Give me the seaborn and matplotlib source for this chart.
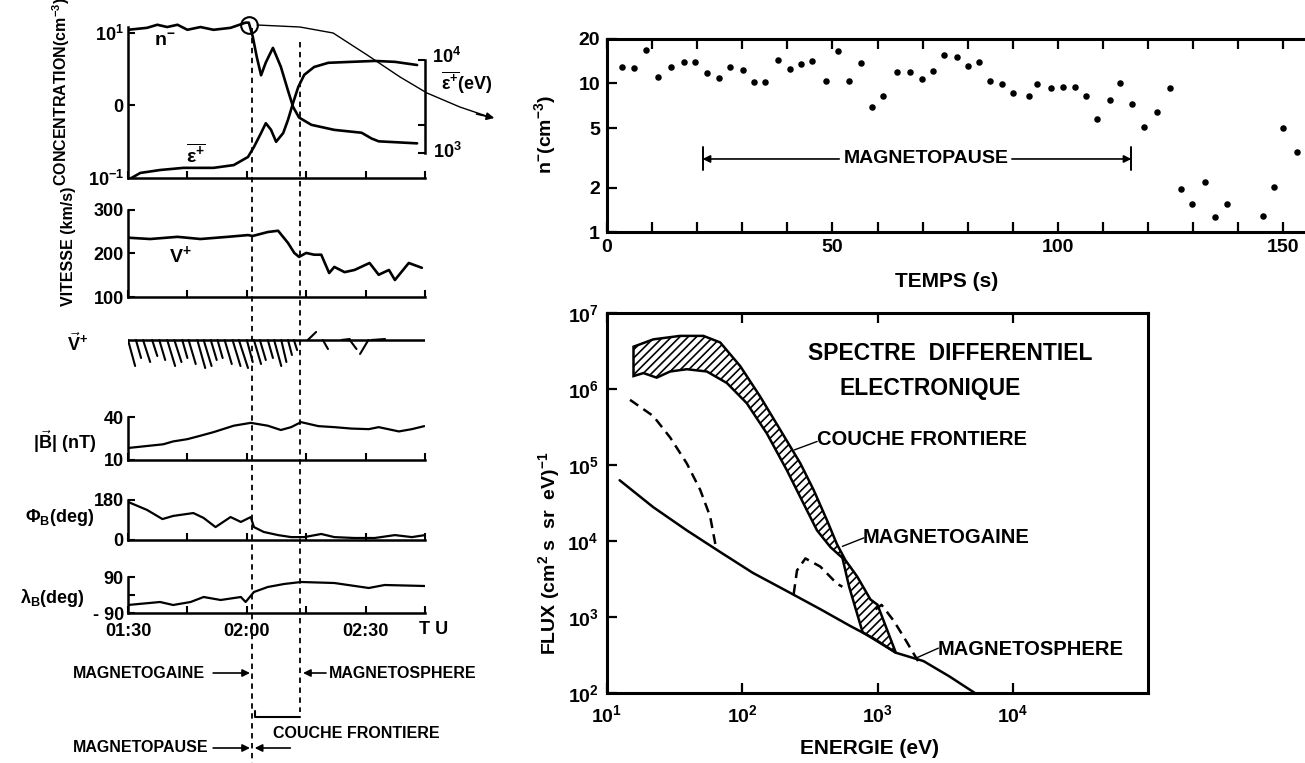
import matplotlib
matplotlib.use("Agg")
import matplotlib.pyplot as plt
from matplotlib.ticker import NullLocator
import seaborn as sns

# --- left column: time in minutes after 01:30 TU ---
time_ticks = [0, 15, 30, 45, 60, 75]
time_labels = ["01:30", "", "02:00", "", "02:30", ""]
boundary_t = [31.3, 43.4]          # magnetopause / inner edge of boundary layer

t_ne = [0, 4.8, 7.4, 9.9, 12.5, 15.0, 18.3, 21.6, 25.9, 29.7, 30.5, 31.5, 32.5, 33.6,
        34.8, 36.6, 38.6, 40.4, 41.7, 43.2, 46.3, 52.1, 59.0, 61.5, 63.3, 73.0]
ne = [11.0, 11.7, 12.9, 12.0, 12.9, 11.0, 12.0, 11.0, 11.7, 13.8, 13.8, 8.9, 4.7, 2.6,
      3.9, 6.2, 3.4, 1.6, 0.95, 0.68, 0.54, 0.46, 0.42, 0.35, 0.32, 0.30]

t_eps = [0, 3.1, 8.1, 14.0, 21.6, 26.7, 30.3, 31.8, 33.6, 34.8, 36.1, 37.4, 39.2, 40.4,
         41.7, 43.0, 44.5, 47.0, 50.6, 56.4, 62.3, 67.4, 73.0]
eps = [513, 610, 656, 692, 692, 741, 906, 1160, 1640, 2090, 1780, 1320, 1640, 2270,
       3470, 5130, 6920, 8410, 9330, 9550, 9770, 9550, 8830]

t_v = [0, 5.6, 12.5, 18.3, 25.2, 30.3, 31.5, 35.3, 37.9, 40.4, 42.0, 43.2, 45.0, 47.0,
       48.8, 50.8, 52.1, 54.7, 57.2, 61.0, 63.3, 65.9, 67.4, 70.9, 74.2]
v = [236, 233, 238, 233, 238, 242, 240, 249, 252, 224, 201, 192, 201, 197,
     197, 155, 169, 157, 162, 178, 151, 162, 139, 178, 167]

# velocity direction sticks: start time, extent in time, extent up (+) / down (-)
stick_t = [0, 2.0, 3.8, 6.1, 7.9, 9.9, 11.7, 13.7, 15.3, 17.5, 19.1, 20.9, 22.6, 24.4, 26.4,
           28.0, 30.0, 31.8, 33.3, 35.3, 36.9, 38.7, 40.4, 41.9, 45.4, 49.2, 53.9, 56.0, 60.7, 61.5]
stick_dx = [1.8, 1.3, 1.8, 1.3, 1.5, 2.0, 1.8, 1.3, 1.8, 2.0, 2.0, 1.5, 1.3, 1.8, 2.0,
            2.3, 1.5, 1.8, 1.5, 1.3, 1.8, 1.3, 1.0, 0.8, 2.1, 1.3, 2.1, 1.7, -2.1, 3.4]
stick_dy = [-26, -18, -22, -16, -20, -26, -22, -18, -24, -28, -26, -20, -18, -24, -26,
            -28, -22, -24, -20, -18, -26, -22, -15, -10, 8, -9, 1, -9, -14, 1]

t_b = [0, 8.9, 11.4, 15.0, 18.3, 21.6, 26.7, 31.0, 35.3, 38.6, 41.2, 43.7, 48.1, 52.1,
       56.4, 60.8, 63.3, 68.4, 71.7, 74.8]
b = [18.4, 21, 23, 24.6, 27, 29.5, 34, 36, 34, 31, 33, 36.5, 33.7, 33,
     32, 31.6, 33, 30, 31.6, 33.7]

t_phi = [0, 4.8, 8.7, 11.4, 16.5, 19.1, 22.1, 25.9, 28.5, 31.0, 31.8, 34.3, 37.9, 41.2,
         44.5, 48.8, 52.1, 57.2, 62.3, 67.4, 71.7, 75.0]
phi = [171, 135, 94, 108, 121, 99, 58, 103, 81, 103, 58, 36, 22, 13,
       13, 27, 13, 9, 9, 22, 13, 22]

t_lam = [0, 8.1, 11.4, 15.8, 19.1, 23.4, 28.5, 29.7, 31.8, 35.3, 39.4, 43.7, 52.1, 60.8, 64.8, 75.0]
lam = [-50, -35, -50, -35, -10, -25, -10, -35, 15, 40, 55, 65, 60, 35, 50, 45]

# --- top right: n- versus time (s) ---
scatter_t = [3.3, 5.9, 8.6, 11.4, 14.2, 17.0, 19.5, 22.2, 24.8, 27.3, 30.2, 32.7, 35.1, 38.0,
             40.6, 43.0, 45.4, 48.6, 51.3, 53.6, 56.4, 58.7, 61.1, 64.3, 67.1, 69.9, 72.2, 74.7,
             77.7, 80.1, 82.4, 84.9, 87.5, 90.0, 93.5, 95.3, 98.4, 101.1, 103.7, 106.2, 108.7,
             111.5, 113.7, 116.5, 119.2, 121.9, 124.8, 127.4, 129.7, 132.6, 134.8, 137.6,
             145.5, 148.0, 150.0, 153.0]
scatter_n = [13.0, 12.8, 16.9, 11.0, 13.0, 14.0, 13.9, 11.7, 10.9, 13.0, 12.3, 10.2, 10.2, 14.4,
             12.6, 13.5, 14.2, 10.4, 16.6, 10.4, 13.8, 7.0, 8.2, 12.0, 11.9, 10.8, 12.2, 15.5,
             15.0, 13.2, 14.0, 10.4, 9.9, 8.6, 8.2, 9.9, 9.3, 9.4, 9.4, 8.3, 5.8,
             7.8, 10.0, 7.3, 5.1, 6.4, 9.3, 1.96, 1.54, 2.18, 1.27, 1.54,
             1.29, 2.02, 5.0, 3.48]
mp_start, mp_end, mp_level = 21.2, 116.3, 3.11

# --- bottom right: electron differential spectra ---
msph_E = [12.4, 21.9, 38.9, 69.2, 120, 214, 380, 631, 933, 1365, 2188, 3388, 5248]
msph_F = [6.3e4, 2.8e4, 1.38e4, 7.1e3, 3.8e3, 2.19e3, 1.26e3, 759, 525, 339, 263, 166, 100]

msh_lo_E = [14.8, 22.0, 29.3, 38.9, 48.9, 57.9, 63.1, 64.6]
msh_lo_F = [7.2e5, 4.4e5, 2.3e5, 1.05e5, 4.7e4, 2.1e4, 9.3e3, 7.6e3]
msh_mid_E = [240, 254, 293, 378, 501, 550]
msh_mid_F = [2.0e3, 4.1e3, 5.9e3, 4.6e3, 2.75e3, 2.5e3]
msh_hi_E = [966, 1072, 1318, 1585, 1995]
msh_hi_F = [1259, 1445, 891, 525, 263]

band_up_E = [15.7, 22.0, 34.7, 51.6, 68.7, 96.6, 136, 191, 269, 337, 424, 501, 579, 708, 887, 1000, 1365]
band_up_F = [3.6e6, 4.5e6, 5.0e6, 5.0e6, 4.1e6, 2.0e6, 7.9e5, 2.9e5, 1.05e5, 4.7e4, 1.86e4,
             9.1e3, 5.6e3, 3.4e3, 1.7e3, 1.45e3, 340]
band_lo_E = [15.7, 18.6, 23.3, 29.3, 38.9, 54.7, 76.9, 108, 152, 214, 284, 357, 449, 550, 617, 776]
band_lo_F = [1.48e6, 1.62e6, 1.41e6, 1.70e6, 1.82e6, 1.70e6, 1.20e6, 6.5e5, 2.6e5, 8.5e4,
             3.1e4, 1.38e4, 8.3e3, 6.0e3, 2.5e3, 630]

W, H = 1305, 763
sns.set_theme(style="ticks", rc={
    "axes.edgecolor": "black", "text.color": "black", "axes.labelcolor": "black",
    "xtick.color": "black", "ytick.color": "black", "hatch.linewidth": 1.2,
})
plt.rcParams["font.family"] = ["Liberation Sans", "DejaVu Sans"]
plt.rcParams["font.weight"] = "bold"
plt.rcParams["mathtext.fontset"] = "custom"
plt.rcParams["mathtext.rm"] = "Liberation Sans:bold"
plt.rcParams["mathtext.it"] = "Liberation Sans:bold"
plt.rcParams["mathtext.bf"] = "Liberation Sans:bold"
plt.rcParams["mathtext.default"] = "rm"

fig = plt.figure(figsize=(W / 100, H / 100), dpi=100)


def rect(x0, y0, x1, y1):
    # pixel box -> figure fraction
    return [x0 / W, 1 - y1 / H, (x1 - x0) / W, (y1 - y0) / H]


def ftext(x, y, s, **kw):
    kw.setdefault("ha", "center")
    kw.setdefault("va", "center")
    fig.text(x / W, 1 - y / H, s, **kw)


def style_left(ax, ylim, yticks, ylabels, bounds, log=False):
    if log:
        ax.set_yscale("log")
    ax.set_xlim(0, 75)
    ax.set_ylim(*ylim)
    for s in ["top", "right"]:
        ax.spines[s].set_visible(False)
    ax.spines["left"].set_bounds(*bounds)
    ax.spines["left"].set_linewidth(1.8)
    ax.spines["bottom"].set_linewidth(1.8)
    ax.set_xticks(time_ticks)
    ax.set_xticklabels([])
    ax.set_yticks(yticks)
    ax.set_yticklabels(ylabels)
    ax.yaxis.set_minor_locator(NullLocator())
    ax.tick_params(direction="in", length=5, width=1.5, labelsize=13, pad=3)
    ax.set_xlabel("")
    ax.set_ylabel("")
    ax.patch.set_alpha(0)


line_kw = dict(color="black", sort=False, estimator=None)

# concentration + mean energy
ax_c = fig.add_axes(rect(128, 20, 425, 178))
sns.lineplot(x=t_ne, y=ne, ax=ax_c, linewidth=1.9, **line_kw)
style_left(ax_c, (0.1, 15), [0.1, 1, 10], ["10$^{-1}$", "0", "10$^{1}$"], (0.1, 12.1), log=True)
ax_e = ax_c.twinx()
sns.lineplot(x=t_eps, y=eps, ax=ax_e, linewidth=1.9, **line_kw)
ax_e.set_yscale("log")
ax_e.set_ylim(10 ** 2.731, 10 ** 4.43)
for s in ["top", "left", "bottom"]:
    ax_e.spines[s].set_visible(False)
ax_e.spines["right"].set_bounds(1e3, 1e4)
ax_e.spines["right"].set_linewidth(1.8)
ax_e.set_yticks([1e3, 2e3, 1e4])
ax_e.set_yticklabels([])
ax_e.yaxis.set_minor_locator(NullLocator())
ax_e.tick_params(direction="in", length=5, width=1.5)
ax_e.set_ylabel("")

# velocity
ax_v = fig.add_axes(rect(128, 205, 425, 297))
sns.lineplot(x=t_v, y=v, ax=ax_v, linewidth=1.9, **line_kw)
style_left(ax_v, (100, 311), [100, 200, 300], ["100", "200", "300"], (100, 300))

# |B|
ax_b = fig.add_axes(rect(128, 410, 425, 460))
sns.lineplot(x=t_b, y=b, ax=ax_b, linewidth=1.6, **line_kw)
style_left(ax_b, (10, 45), [10, 40], ["10", "40"], (10, 40))

# phi_B
ax_p = fig.add_axes(rect(128, 495, 425, 540))
sns.lineplot(x=t_phi, y=phi, ax=ax_p, linewidth=1.6, **line_kw)
style_left(ax_p, (0, 202), [0, 180], ["0", "180"], (0, 180))

# lambda_B
ax_l = fig.add_axes(rect(128, 572, 425, 613))
sns.lineplot(x=t_lam, y=lam, ax=ax_l, linewidth=1.6, **line_kw)
style_left(ax_l, (-90, 115), [-90, 0, 90], ["- 90", "", "90"], (-90, 90))
ax_l.set_xticklabels(time_labels)
ax_l.tick_params(axis="x", pad=7, labelsize=13)

# overlay: time in x, pixel rows in y
ov = fig.add_axes(rect(128, 0, 425, 763))
ov.set_xlim(0, 75)
ov.set_ylim(763, 0)
ov.axis("off")
ov.patch.set_alpha(0)
dash = (0, (3, 2.5))
ov.plot([boundary_t[0]] * 2, [28, 763], color="black", lw=1.3, ls=dash)
ov.plot([boundary_t[1]] * 2, [42, 712], color="black", lw=1.3, ls=dash)
# velocity direction sticks
ov.plot([0, 75], [340, 340], color="black", lw=1.8)
for t0, dx, dy in zip(stick_t, stick_dx, stick_dy):
    ov.plot([t0, t0 + dx], [340, 340 - dy], color="black", lw=1.5)
# magnetopause circle and trajectory arrow
traj_t = [32.6, 43.4, 51.8, 60.4, 68.7, 75.5, 83.8, 90.5]
traj_y = [25, 27, 33, 55, 77, 93, 107, 116]
ov.plot([30.5], [25], marker="o", ms=12, mfc="none", mec="black", mew=1.5, clip_on=False)
ov.plot(traj_t, traj_y, color="black", lw=1.0, clip_on=False)
arrow = dict(arrowstyle="-|>", color="black", lw=1.2, mutation_scale=11, shrinkA=0, shrinkB=0)
ov.annotate("", xy=(92.5, 118), xytext=(88.0, 114), arrowprops=arrow, annotation_clip=False)
# region annotations
ov.annotate("", xy=(30.8, 673), xytext=(21.5, 673), arrowprops=arrow)
ov.annotate("", xy=(44.2, 673), xytext=(50.0, 673), arrowprops=arrow)
ov.plot([32.0, 32.0, boundary_t[1]], [711, 717, 717], color="black", lw=1.5)
ov.annotate("", xy=(30.8, 748), xytext=(21.5, 748), arrowprops=arrow)
ov.annotate("", xy=(32.0, 748), xytext=(41.0, 748), arrowprops=arrow)

ftext(73, 673, "MAGNETOGAINE", size=11.5, ha="left")
ftext(329, 673, "MAGNETOSPHERE", size=11.5, ha="left")
ftext(273, 733, "COUCHE FRONTIERE", size=11.5, ha="left")
ftext(73, 748, "MAGNETOPAUSE", size=11.5, ha="left")

# left-column labels
ftext(61, 92, "CONCENTRATION(cm$^{-3}$)", size=11.5, rotation=90)
ftext(69, 246, "VITESSE (km/s)", size=11.5, rotation=90)
ftext(78, 344, r"$\vec{V}^{+}$", size=13)
ftext(65, 442, r"$|\vec{B}|$ (nT)", size=13)
ftext(60, 518, r"Φ$_{B}$(deg)", size=13)
ftext(52, 598, r"λ$_{B}$(deg)", size=13)
ftext(434, 630, "T U", size=13)
ftext(165, 41, "n$^{-}$", size=14)
ftext(196, 155, r"$\overline{\varepsilon^{+}}$", size=14)
ftext(180, 255, "V$^{+}$", size=14)
ftext(447, 57, "10$^{4}$", size=13)
ftext(467, 83, r"$\overline{\varepsilon^{+}}$(eV)", size=13)
ftext(447, 152, "10$^{3}$", size=13)

# --- top right scatter ---
ax_n = fig.add_axes(rect(607, 38.7, 1305, 232.3))
sns.scatterplot(x=scatter_t, y=scatter_n, ax=ax_n, color="black", s=22, linewidth=0)
ax_n.set_yscale("log")
ax_n.set_xlim(0, 154.8)
ax_n.set_ylim(1, 20)
ax_n.spines["right"].set_visible(False)
for s in ["top", "bottom", "left"]:
    ax_n.spines[s].set_linewidth(2.2)
xt = list(range(0, 151, 10))
ax_n.set_xticks(xt)
ax_n.set_xticklabels([str(x) if x % 50 == 0 else "" for x in xt])
ax_n.set_yticks([1, 2, 5, 10, 20])
ax_n.set_yticklabels(["1", "2", "5", "10", "20"])
ax_n.yaxis.set_minor_locator(NullLocator())
ax_n.tick_params(direction="in", length=7, width=1.6, labelsize=14, pad=5)
ax_n.tick_params(axis="x", top=True)
ax_n.set_xlabel("")
ax_n.set_ylabel("")
ax_n.plot([mp_start] * 2, [2.62, 3.76], color="black", lw=1.4)
ax_n.plot([mp_end] * 2, [2.62, 3.76], color="black", lw=1.4)
ax_n.annotate("", xy=(mp_start, mp_level), xytext=(51.5, mp_level), arrowprops=arrow)
ax_n.annotate("", xy=(mp_end, mp_level), xytext=(89.8, mp_level), arrowprops=arrow)
ax_n.text(70.7, mp_level, "MAGNETOPAUSE", size=14, ha="center", va="center")
ftext(545, 135, "n$^{-}$(cm$^{-3}$)", size=14, rotation=90)
ftext(947, 281, "TEMPS (s)", size=15)

# --- bottom right spectrum ---
ax_f = fig.add_axes(rect(607, 313, 1148, 693))
ax_f.fill(band_up_E + band_lo_E[::-1], band_up_F + band_lo_F[::-1],
          facecolor="white", edgecolor="black", hatch="////", lw=1.8, zorder=2)
sns.lineplot(x=msph_E, y=msph_F, ax=ax_f, linewidth=1.8, **line_kw)
for xs, ys in [(msh_lo_E, msh_lo_F), (msh_mid_E, msh_mid_F), (msh_hi_E, msh_hi_F)]:
    sns.lineplot(x=xs, y=ys, ax=ax_f, linewidth=1.8, linestyle=(0, (4, 2.5)), **line_kw)
ax_f.set_xscale("log")
ax_f.set_yscale("log")
ax_f.set_xlim(10, 1e5)
ax_f.set_ylim(1e2, 1e7)
for s in ax_f.spines.values():
    s.set_linewidth(2.2)
ax_f.set_xticks([1e1, 1e2, 1e3, 1e4])
ax_f.set_xticklabels(["10$^{1}$", "10$^{2}$", "10$^{3}$", "10$^{4}$"])
ax_f.set_yticks([1e2, 1e3, 1e4, 1e5, 1e6, 1e7])
ax_f.set_yticklabels(["10$^{%d}$" % k for k in range(2, 8)])
ax_f.xaxis.set_minor_locator(NullLocator())
ax_f.yaxis.set_minor_locator(NullLocator())
ax_f.tick_params(direction="in", length=7, width=1.6, labelsize=14, pad=6)
ax_f.tick_params(axis="x", top=True, pad=8)
ax_f.set_xlabel("")
ax_f.set_ylabel("")
ax_f.plot([243, 358], [1.58e5, 2.04e5], color="black", lw=1.0)
ax_f.plot([550, 794], [8.5e3, 1.1e4], color="black", lw=1.0)
ax_f.plot([1928, 2818], [288, 389], color="black", lw=1.0)
ax_f.text(3470, 2.95e6, "SPECTRE  DIFFERENTIEL", size=16.5, ha="center", va="center")
ax_f.text(2450, 1.02e6, "ELECTRONIQUE", size=16.5, ha="center", va="center")
ax_f.text(355, 2.14e5, "COUCHE FRONTIERE", size=14.5, ha="left", va="center")
ax_f.text(771, 1.1e4, "MAGNETOGAINE", size=14.5, ha="left", va="center")
ax_f.text(2786, 372, "MAGNETOSPHERE", size=14.5, ha="left", va="center")
ftext(549, 553, "FLUX (cm$^{2}$ s  sr  eV)$^{-1}$", size=14, rotation=90)
ftext(870, 748, "ENERGIE (eV)", size=15)

fig.savefig("out.png", dpi=100, facecolor="white")
